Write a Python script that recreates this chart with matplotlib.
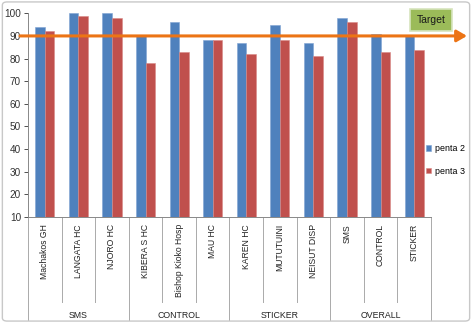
import matplotlib.pyplot as plt
import numpy as np
from matplotlib.patches import FancyBboxPatch

sites = ['Machakos GH', 'LANGATA HC', 'NJORO HC', 'KIBERA S HC', 'Bishop Kioko Hosp',
         'MAU HC', 'KAREN HC', 'MUTUTUINI', 'NEISUT DISP', 'SMS', 'CONTROL', 'STICKER']
groups = ['SMS', 'CONTROL', 'STICKER', 'OVERALL']
group_size = [3, 3, 3, 3]
penta2 = [94, 100, 100, 90, 96, 88, 87, 95, 87, 98, 91, 90]
penta3 = [92, 99, 98, 78, 83, 88, 82, 88, 81, 96, 83, 84]
target = 90

plt.rcParams['font.family'] = ['Liberation Sans', 'DejaVu Sans']

fig = plt.figure(figsize=(4.72, 3.23), dpi=100)
ax = fig.add_axes([28 / 472, 1 - 217 / 323, (431 - 28) / 472, (217 - 13.3) / 323])

x = np.arange(len(sites))
w = 0.285
ax.bar(x - w / 2, penta2, w, bottom=0, color='#4f81bd', edgecolor='#7fa3d3', linewidth=0.4, label='penta 2')
ax.bar(x + w / 2, penta3, w, bottom=0, color='#c0504d', edgecolor='#d88a88', linewidth=0.4, label='penta 3')

ax.set_xlim(-0.5, len(sites) - 0.5)
ax.set_ylim(10, 100)
ax.set_yticks(range(10, 101, 10))
ax.set_xticks([])
ax.tick_params(axis='y', labelsize=7.2, colors='#333333', length=3, width=0.6, pad=2)
for t in ax.get_yticklines():
    t.set_color('#888888')
for s in ['top', 'right']:
    ax.spines[s].set_visible(False)
for s in ['left', 'bottom']:
    ax.spines[s].set_color('#888888')
    ax.spines[s].set_linewidth(0.7)

# multi-level category axis
tr = ax.get_xaxis_transform()
for i, name in enumerate(sites):
    ax.text(i, -0.035, name, rotation=90, ha='center', va='top', fontsize=6.2,
            color='#222222', transform=tr)
bounds = np.cumsum([0] + group_size)
for b in range(len(sites) + 1):
    ybot = -0.506 if b in bounds else -0.417
    ax.plot([b - 0.5, b - 0.5], [0, ybot], color='#aaaaaa', lw=0.7,
            transform=tr, clip_on=False)
for g, name in enumerate(groups):
    c = (bounds[g] + bounds[g + 1] - 1) / 2
    ax.text(c, -0.482, name, ha='center', va='center', fontsize=6.3,
            color='#222222', transform=tr)

# target arrow
ax.annotate('', xy=(467 / 472, target), xytext=(20 / 472, target),
            xycoords=('figure fraction', 'data'), textcoords=('figure fraction', 'data'),
            arrowprops=dict(arrowstyle='-|>,head_length=0.6,head_width=0.35',
                            color='#ec7415', lw=2.2, shrinkA=0, shrinkB=0),
            annotation_clip=False)
fig.text(431 / 472, 1 - 20 / 323, 'Target', ha='center', va='center', fontsize=7.5,
         color='#1a1a1a',
         bbox=dict(boxstyle='square,pad=0.6', facecolor='#9bbb59', edgecolor='#d7e4bd', lw=1.2))

fig.legend(loc='center left', bbox_to_anchor=(426 / 472, 1 - 160 / 323), frameon=False,
           fontsize=6.4, handlelength=0.6, handleheight=0.6, handletextpad=0.4,
           labelspacing=1.5, borderaxespad=0, borderpad=0)

fig.patches.append(FancyBboxPatch((0.005, 0.006), 0.99, 0.988, boxstyle='round,pad=0,rounding_size=0.01',
                                  transform=fig.transFigure, facecolor='none',
                                  edgecolor='#c8c8c8', lw=1.0))

fig.savefig('out.png', dpi=100)
